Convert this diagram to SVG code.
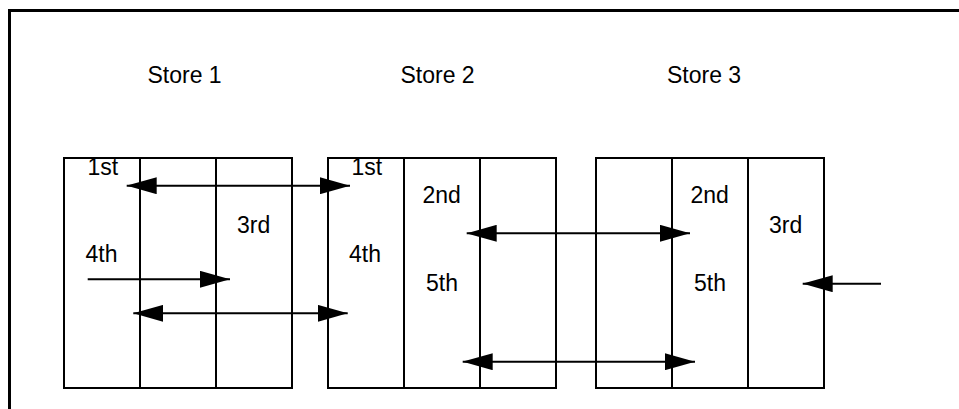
<svg xmlns="http://www.w3.org/2000/svg" width="959" height="409" viewBox="0 0 959 409">
<style>
.box{fill:none;stroke:#000;stroke-width:2}
.col{stroke:#000;stroke-width:2}
.t{font-family:"Liberation Sans",Arial,sans-serif;font-size:23px;fill:#000}
.c{fill:none;stroke:#000;stroke-width:2}
.b{marker-start:url(#ah);marker-end:url(#ah)}
.e{marker-end:url(#ah)}
</style>
<defs>
<marker id="ah" viewBox="0 0 30 17" refX="30" refY="8.5" markerWidth="30" markerHeight="17" markerUnits="userSpaceOnUse" orient="auto-start-reverse">
<path d="M0,0 L30,8.5 L0,17 z" fill="#000"/>
</marker>
</defs>
<rect width="959" height="409" fill="#fff"/>
<path d="M9.5,409 V10.5 H959" fill="none" stroke="#000" stroke-width="3"/>
<g id="title1"><text class="t" x="147.5" y="83">Store 1</text></g>
<g id="title2"><text class="t" x="400.5" y="83">Store 2</text></g>
<g id="title3"><text class="t" x="667" y="83">Store 3</text></g>
<g id="store1">
<rect class="box" x="64" y="158" width="228" height="230"/>
<line class="col" x1="140" y1="158" x2="140" y2="388"/>
<line class="col" x1="216" y1="158" x2="216" y2="388"/>
<text class="t" x="87.5" y="174.5">1st</text>
<text class="t" x="237" y="232.5">3rd</text>
<text class="t" x="85.5" y="262">4th</text>
</g>
<g id="store2">
<rect class="box" x="328" y="158" width="228" height="230"/>
<line class="col" x1="404" y1="158" x2="404" y2="388"/>
<line class="col" x1="480" y1="158" x2="480" y2="388"/>
<text class="t" x="351.5" y="174.5">1st</text>
<text class="t" x="422.5" y="203">2nd</text>
<text class="t" x="349" y="262">4th</text>
<text class="t" x="426" y="291">5th</text>
</g>
<g id="store3">
<rect class="box" x="596" y="158" width="228" height="230"/>
<line class="col" x1="672" y1="158" x2="672" y2="388"/>
<line class="col" x1="748" y1="158" x2="748" y2="388"/>
<text class="t" x="690.5" y="203">2nd</text>
<text class="t" x="769" y="232.5">3rd</text>
<text class="t" x="694" y="291">5th</text>
</g>
<g id="connectors">
<path class="c b" d="M126.7,185.7 H350"/>
<path class="c e" d="M87.7,279.3 H230"/>
<path class="c b" d="M133.3,313.3 H347.7"/>
<path class="c b" d="M466.7,233.3 H690"/>
<path class="c b" d="M462.7,361.7 H695"/>
<path class="c e" d="M881,283.7 H802.7"/>
</g>
</svg>
